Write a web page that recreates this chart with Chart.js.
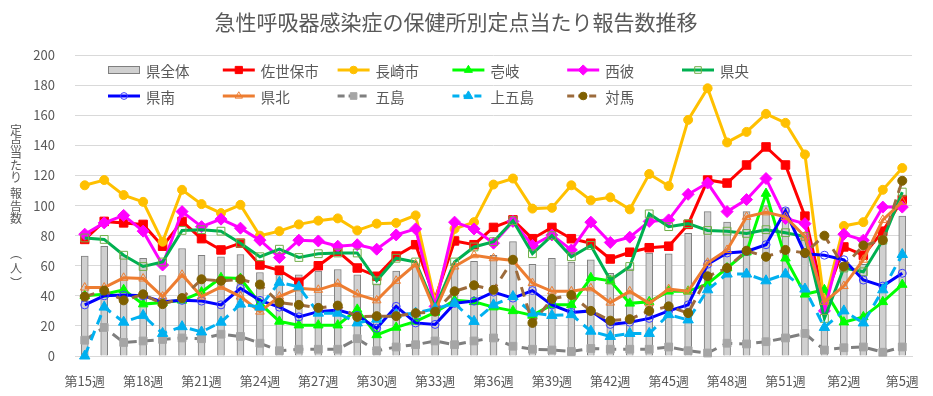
<!DOCTYPE html>
<html lang="ja">
<head>
<meta charset="utf-8">
<title>急性呼吸器感染症の保健所別定点当たり報告数推移</title>
<script src="https://cdn.jsdelivr.net/npm/chart.js@4.4.1/dist/chart.umd.min.js"></script>
<style>
  html, body { margin: 0; padding: 0; background: #fff; }
</style>
</head>
<body>
<canvas id="reportChart" width="933" height="396"></canvas>
<script>
// 週 (第15週〜第52週、翌年第1週〜第5週)
const weeks = [15, 16, 17, 18, 19, 20, 21, 22, 23, 24, 25, 26, 27, 28, 29, 30, 31, 32, 33, 34,
  35, 36, 37, 38, 39, 40, 41, 42, 43, 44, 45, 46, 47, 48, 49, 50, 51, 52, 1, 2, 3, 4, 5];
// x軸に表示する週
const tickWeeks = [15, 18, 21, 24, 27, 30, 33, 36, 39, 42, 45, 48, 51, 2, 5];

// 定点当たり報告数
const kenZentai = [66.5, 73, 67, 65, 53.5, 71.5, 67, 66, 67.5, 55.5, 54, 54, 56.5, 57.5, 54, 48, 56.5, 60.5, 28, 61.5,
  63, 67, 76, 61, 65, 62.5, 64, 55, 58, 68.5, 68, 81.5, 96, 89, 96, 100, 98.5, 82, 19, 61.5, 61, 76, 93];
const sasebo = [77.5, 89.5, 88.5, 87.5, 73, 89.5, 78, 70.5, 75, 60.5, 57, 49, 60, 69.5, 58.5, 53, 66.5, 74, 38, 76.5,
  74, 85.5, 90.5, 78, 85.5, 78, 75, 64.5, 69, 72, 73, 87.5, 117, 115, 127, 139, 127, 93, 37, 72.5, 67, 83, 104];
const nagasaki = [113.5, 117, 107, 102.5, 76, 110.5, 101, 95, 100.5, 80, 83, 87.5, 90, 91.5, 83.5, 88, 88.5, 93.5, 36, 84.5,
  89, 114, 118, 98, 98.5, 113.5, 103.5, 105.5, 97.5, 121, 113, 157, 178, 142, 149, 161, 155, 134, 35, 86.5, 89, 110.5, 125];
const iki = [40, 41, 44, 34.5, 35.5, 37, 42.5, 52, 51.5, 35, 23, 20.5, 20.5, 20.5, 31, 14, 19, 23, 29, 37,
  36, 32.5, 30, 27, 34, 34, 52, 50, 35, 36, 43, 43, 48, 58.5, 69, 108, 65, 41, 44, 22.5, 26, 36, 47.5];
const nishisonogi = [81, 88.5, 93.5, 83, 60.5, 96, 86, 91, 85, 77, 65.5, 77, 76.5, 73, 74, 71, 80.5, 84.5, 33, 89,
  84.5, 75, 89.5, 73.5, 80.5, 70.5, 89, 75.5, 79, 89.5, 90.5, 107.5, 115, 96, 104, 118, 91.5, 88, 30, 81, 77, 99, 99];
const kenou = [78.5, 77.5, 67, 59.5, 62.5, 83.5, 84, 83, 75, 66, 71, 65.5, 68, 68.5, 68.5, 50, 65, 62.5, 32, 62.5,
  72.5, 76, 90, 68, 80, 66, 73.5, 50.5, 59.5, 94.5, 86, 88, 83.5, 83, 81.5, 84, 82, 79.5, 25, 58.5, 56, 77, 109];
const kennan = [34, 40, 40.5, 40, 36, 37, 36.5, 34, 45, 37, 32.5, 26, 29.5, 30.5, 27, 18.5, 33, 22, 21, 35,
  36.5, 42.5, 38.5, 43.5, 34, 29, 30, 21, 22.5, 25, 30, 34, 61, 68.5, 69.5, 74, 96.5, 68, 67, 64, 50.5, 46.5, 55];
const kenhoku = [45.5, 45.5, 52, 51.5, 39.5, 54, 39.5, 46, 39.5, 29.5, 39.5, 45, 44, 48, 41, 37, 50, 61, 30, 59.5,
  67, 65, 63.5, 48.5, 43, 43, 45, 35.5, 43, 35, 44.5, 43, 62, 70.5, 92.5, 95.5, 92.5, 79.5, 36, 46.5, 64, 90.5, 102.5];
const goto = [10.5, 19, 9, 10, 11, 12, 11.5, 14.5, 13, 8.5, 3.5, 4.5, 4.5, 4.5, 11.5, 3.5, 6, 7.5, 10, 7.5,
  10, 12, 6.5, 4.5, 4, 3, 5, 4.5, 4.5, 4.5, 6, 3.5, 2, 8.5, 8, 9.5, 12, 15, 4, 5.5, 6, 2.5, 6];
const kamigoto = [0, 32.5, 22.5, 27, 15, 19.5, 16, 22.5, 34.5, 32.5, 49, 46, 28.5, 28.5, 22, 24.5, 27.5, 28.5, 31.5, 35,
  23, 34, 39.5, 28.5, 27, 27.5, 16.5, 13, 15, 15, 27.5, 24, 44, 54.5, 54.5, 50, 54.5, 44.5, 19, 30, 22, 44, 67.5];
const tsushima = [39.5, 43.5, 37, 41, 34.5, 38.5, 51, 50, 51, 47.5, 35.5, 34, 32, 33.5, 26, 26.5, 26.5, 28.5, 29.5, 43,
  47, 44, 64, 22, 38, 40.5, 30, 23.5, 24.5, 30, 33, 28.5, 53, 58.5, 70, 66, 70.5, 68.5, 80, 59.5, 73.5, 77, 116.5];

const fontJP = "'Noto Sans CJK JP', 'Noto Sans', sans-serif";
const textGray = '#595959';
Chart.defaults.font.family = fontJP;
Chart.defaults.color = textGray;

function lineSet(label, data, color, extra) {
  return Object.assign({
    type: 'line',
    label: label,
    data: data,
    borderColor: color,
    backgroundColor: color,
    borderWidth: 3,
    tension: 0,
    clip: false,
    pointBackgroundColor: color,
    pointBorderColor: color,
    pointBorderWidth: 1
  }, extra);
}

const datasets = [
  {
    type: 'bar', label: '県全体', data: kenZentai,
    backgroundColor: '#D0D0D0', borderColor: '#7F7F7F', borderWidth: 1,
    barThickness: 7, order: 20
  },
  lineSet('佐世保市', sasebo, '#FF0000', { pointStyle: 'rect', pointRadius: 6, order: 10 }),
  lineSet('長崎市', nagasaki, '#FFC000', { pointStyle: 'circle', pointRadius: 4.5, order: 9 }),
  lineSet('壱岐', iki, '#00FF00', { pointStyle: 'triangle', pointRadius: 5.5, order: 8 }),
  lineSet('西彼', nishisonogi, '#FF00FF', { pointStyle: 'rectRot', pointRadius: 6, order: 7 }),
  lineSet('県央', kenou, '#00B050', {
    pointStyle: 'rect', pointRadius: 5.5, order: 6,
    pointBackgroundColor: 'rgba(0,0,0,0)', pointBorderColor: '#70AD47'
  }),
  lineSet('県南', kennan, '#0000FF', {
    pointStyle: 'circle', pointRadius: 4, order: 5,
    pointBackgroundColor: 'rgba(0,0,0,0)', pointBorderColor: '#3F3FFF'
  }),
  lineSet('県北', kenhoku, '#ED7D31', {
    pointStyle: 'triangle', pointRadius: 5, order: 4,
    pointBackgroundColor: 'rgba(0,0,0,0)', pointBorderColor: '#ED7D31'
  }),
  lineSet('五島', goto, '#7F7F7F', {
    pointStyle: 'rect', pointRadius: 5.5, order: 3, borderDash: [10, 7],
    pointBackgroundColor: '#A5A5A5', pointBorderColor: '#A5A5A5'
  }),
  lineSet('上五島', kamigoto, '#00B0F0', { pointStyle: 'triangle', pointRadius: 6, order: 2, borderDash: [10, 7] }),
  lineSet('対馬', tsushima, '#9C6B3C', {
    pointStyle: 'circle', pointRadius: 4.5, order: 1, borderDash: [10, 7],
    pointBackgroundColor: '#7F6000', pointBorderColor: '#7F6000'
  })
];

// 凡例 (Excel風に6列で並べる)
const gridLegend = {
  id: 'gridLegend',
  afterDatasetsDraw(chart) {
    const ctx = chart.ctx;
    ctx.save();
    ctx.font = '14.5px ' + fontJP;
    ctx.textBaseline = 'middle';
    chart.data.datasets.forEach((ds, i) => {
      const x = 108 + (i % 6) * 114.8;
      const y = 70 + Math.floor(i / 6) * 26;
      if (ds.type === 'bar') {
        ctx.fillStyle = ds.backgroundColor;
        ctx.strokeStyle = ds.borderColor;
        ctx.lineWidth = 1;
        ctx.fillRect(x, y - 4, 32, 8);
        ctx.strokeRect(x + 0.5, y - 3.5, 31, 7);
      } else {
        ctx.strokeStyle = ds.borderColor;
        ctx.lineWidth = 3;
        ctx.setLineDash(ds.borderDash ? [7, 4] : []);
        ctx.beginPath();
        ctx.moveTo(x, y);
        ctx.lineTo(x + 32, y);
        ctx.stroke();
        ctx.setLineDash([]);
        ctx.fillStyle = ds.pointBackgroundColor;
        ctx.strokeStyle = ds.pointBorderColor;
        ctx.lineWidth = 1;
        Chart.helpers.drawPoint(ctx, {
          pointStyle: ds.pointStyle, radius: ds.pointRadius * 0.85, rotation: 0, borderWidth: 1
        }, x + 16, y);
      }
      ctx.fillStyle = textGray;
      ctx.fillText(ds.label, x + 38, y + 1);
    });
    ctx.restore();
  }
};

// 縦書きの軸タイトル
const yTitleChars = ['定', '点', '当', 'た', 'り', '報', '告', '数', '︵', '人', '︶'];
const yTitleTop = [130, 142, 153.5, 165, 177, 193, 206, 218, 253, 268, 283];
const verticalTitle = {
  id: 'verticalTitle',
  afterDraw(chart) {
    const ctx = chart.ctx;
    ctx.save();
    ctx.font = '12px ' + fontJP;
    ctx.fillStyle = textGray;
    ctx.textAlign = 'center';
    ctx.textBaseline = 'middle';
    yTitleChars.forEach((c, i) => ctx.fillText(c, 16, yTitleTop[i]));
    ctx.restore();
  }
};

new Chart(document.getElementById('reportChart'), {
  type: 'bar',
  data: {
    labels: weeks.map(w => '第' + w + '週'),
    datasets: datasets
  },
  options: {
    responsive: false,
    animation: false,
    devicePixelRatio: 1,
    layout: { padding: { left: 0, right: 21, top: 0, bottom: 0 } },
    scales: {
      x: {
        grid: { display: false },
        border: { color: '#D9D9D9' },
        ticks: {
          autoSkip: false,
          maxRotation: 0,
          padding: 9,
          font: { size: 13 },
          color: textGray,
          callback: function (value, index) {
            return tickWeeks.includes(weeks[index]) ? '第' + weeks[index] + '週' : '';
          }
        },
        afterFit: scale => { scale.height = 40; }
      },
      y: {
        min: 0,
        max: 200,
        grid: { color: '#D9D9D9', drawTicks: false },
        border: { display: false },
        ticks: { stepSize: 20, padding: 20, font: { size: 13 }, color: textGray },
        afterFit: scale => { scale.width = 75; }
      }
    },
    plugins: {
      legend: { display: false },
      tooltip: { enabled: false },
      title: {
        display: true,
        text: '急性呼吸器感染症の保健所別定点当たり報告数推移',
        font: { size: 21, weight: 'normal' },
        color: textGray,
        padding: { top: 9, bottom: 21 }
      }
    }
  },
  plugins: [gridLegend, verticalTitle]
});
</script>
</body>
</html>
